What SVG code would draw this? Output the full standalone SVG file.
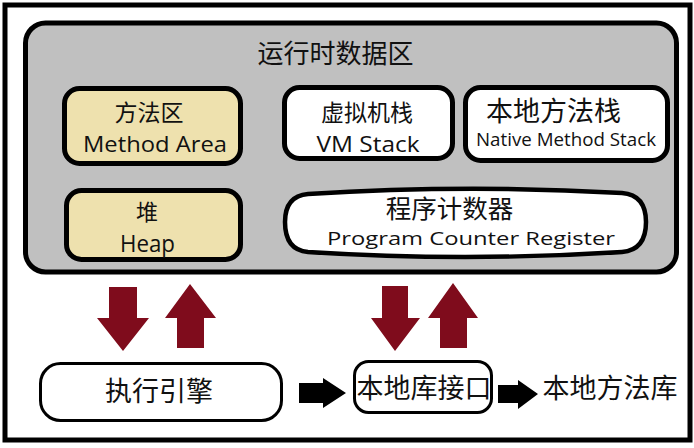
<svg xmlns="http://www.w3.org/2000/svg" width="694" height="448" viewBox="0 0 694 448">
<style>
.t{font-family:"Noto Sans CJK SC","Noto Sans",sans-serif;fill:#111;text-anchor:middle}
.l{font-family:"Open Sans","Noto Sans",sans-serif;fill:#111;text-anchor:middle}
.box{stroke:#000;stroke-width:5}
.yel{fill:#eee1ae}
.wht{fill:#fff}
.red{fill:#7f0c1c}
.blk{fill:#000}
</style>
<rect x="5" y="5" width="685" height="435" fill="#fff" stroke="#000" stroke-width="5"/>
<g id="runtime-data-area">
<rect x="25.5" y="23" width="651" height="249" rx="20" fill="#c0c0c0" stroke="#000" stroke-width="5"/>
<text class="t" x="335.5" y="63" font-size="26">运行时数据区</text>
</g>
<g id="method-area">
<rect class="box yel" x="64.5" y="88.5" width="176" height="75" rx="15"/>
<text class="t" x="149" y="121" font-size="23">方法区</text>
<text class="l" x="155" y="152" font-size="21" textLength="144" lengthAdjust="spacingAndGlyphs">Method Area</text>
</g>
<g id="vm-stack">
<rect class="box wht" x="284.5" y="87.5" width="168" height="71" rx="15"/>
<text class="t" x="367" y="121" font-size="23">虚拟机栈</text>
<text class="l" x="368" y="152" font-size="22" textLength="103" lengthAdjust="spacingAndGlyphs">VM Stack</text>
</g>
<g id="native-method-stack">
<rect class="box wht" x="465.5" y="87.5" width="202" height="73" rx="15"/>
<text class="t" x="553.5" y="121" font-size="27">本地方法栈</text>
<text class="l" x="566" y="146" font-size="17.5" textLength="180" lengthAdjust="spacingAndGlyphs">Native Method Stack</text>
</g>
<g id="heap">
<rect class="box yel" x="66.5" y="190.5" width="174" height="69" rx="15"/>
<text class="t" x="147" y="220" font-size="22">堆</text>
<text class="l" x="147.5" y="252" font-size="23" textLength="55" lengthAdjust="spacingAndGlyphs">Heap</text>
</g>
<g id="program-counter-register">
<path class="wht" stroke="#000" stroke-width="4.5" d="M308 194 Q465 184 622 193 Q646 195 646 222 Q646 250 622 252 Q465 262 308 252 Q285 250 285 222 Q285 196 308 194 Z"/>
<text class="t" x="449.5" y="218" font-size="25.5">程序计数器</text>
<text class="l" x="471" y="245" font-size="18.5" textLength="288" lengthAdjust="spacingAndGlyphs">Program Counter Register</text>
</g>
<g id="execution-engine">
<rect class="wht" stroke="#000" stroke-width="3" x="40.5" y="363.5" width="241" height="57" rx="20"/>
<text class="t" x="159" y="401" font-size="27">执行引擎</text>
</g>
<g id="native-interface">
<rect class="wht" stroke="#000" stroke-width="3" x="354.5" y="361.5" width="137" height="51" rx="14"/>
<text class="t" x="424" y="398" font-size="27">本地库接口</text>
</g>
<g id="native-library">
<text class="t" x="610" y="398" font-size="27">本地方法库</text>
</g>
<g id="connectors">
<polygon class="red" points="109,287 137,287 137,318 149,318 123,351 97,318 109,318"/>
<polygon class="red" points="190,284 216,318 204,318 204,348 177,348 177,318 165,318"/>
<polygon class="red" points="382,286 408,286 408,318 420,318 395,351 371,318 382,318"/>
<polygon class="red" points="453,283 478,318 467,318 467,348 440,348 440,318 428,318"/>
<polygon class="blk" points="299,383 323,383 323,378 346,393 323,408 323,403 299,403"/>
<polygon class="blk" points="498,385 518,385 518,380 538,394 518,409 518,403 498,403"/>
</g>
</svg>
